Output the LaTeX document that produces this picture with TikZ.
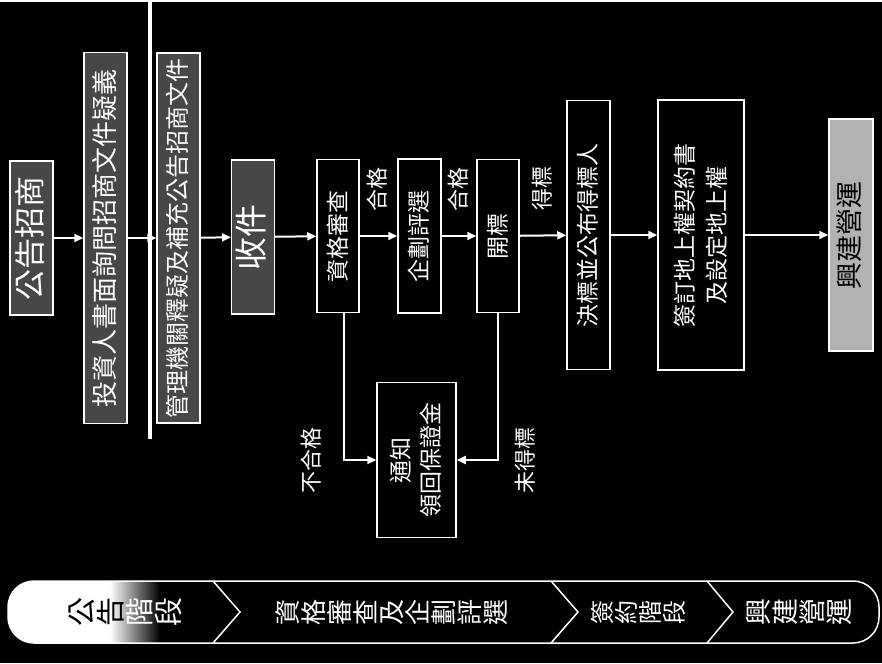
\documentclass[tikz,border=0pt]{standalone}
\usepackage{fontspec}
\setmainfont{Noto Sans CJK TC}
\usetikzlibrary{arrows.meta}
\newcommand\ver[1]{\hspace*{4pt}\rotatebox{90}{\begin{tabular}{@{}c@{}}#1\end{tabular}}}

\begin{document}
\begin{tikzpicture}[x=1pt,y=-1pt,
  scatola/.style={draw=white,line width=1.5pt,fill=black,text=white,inner sep=0pt,font=\fontsize{23}{30}\selectfont},
  retinata/.style={scatola,fill=black!72},
  freccia/.style={white,line width=2pt,-{Triangle[length=9pt,width=8pt]}},
  etichetta/.style={text=white,inner sep=0pt,font=\fontsize{22}{26}\selectfont},
  fase/.style={text=white,inner sep=0pt,rotate=90,align=center,font=\fontsize{27}{27}\selectfont}]

\def\barra{[rounded corners=26pt] (8,579) rectangle (879,641)}
\fill[black] (0,0) rectangle (882,661);
\draw[white,line width=4pt] (150,0) -- (150,437);

\node[retinata,minimum width=43pt,minimum height=154pt,font=\fontsize{31}{34}\selectfont] (annuncio) at (31.5,236) {\ver{公告招商}};
\node[retinata,minimum width=43pt,minimum height=371pt,font=\fontsize{26}{30}\selectfont] (quesiti) at (105.5,236) {\ver{投資人書面詢問招商文件疑義}};
\node[retinata,minimum width=43pt,minimum height=370pt,font=\fontsize{24}{30}\selectfont] (chiarimenti) at (178.5,236) {\ver{管理機關釋疑及補充公告招商文件}};
\node[retinata,minimum width=42pt,minimum height=154pt,font=\fontsize{33}{36}\selectfont] (ricezione) at (253,235) {\ver{收件}};
\node[scatola,minimum width=42pt,minimum height=153pt] (requisiti) at (338,234) {\ver{資格審查}};
\node[scatola,minimum width=43pt,minimum height=154pt] (valutazione) at (419.5,234) {\ver{企劃評選}};
\node[scatola,minimum width=42pt,minimum height=153pt] (apertura) at (498,234) {\ver{開標}};
\node[scatola,minimum width=43pt,minimum height=269pt] (aggiudica) at (588.5,233) {\ver{決標並公布得標人}};
\node[scatola,minimum width=86pt,minimum height=270pt,font=\fontsize{23}{32}\selectfont] (contratto) at (701,233) {\ver{簽訂地上權契約書\\及設定地上權}};
\node[scatola,minimum width=44pt,minimum height=232pt,fill=gray!60,text=black,font=\fontsize{27}{30}\selectfont] (costruzione) at (851,233) {\ver{興建營運}};
\node[scatola,minimum width=79pt,minimum height=155pt] (avviso) at (416.5,458) {\ver{通知\\領回保證金}};

\draw[freccia] (annuncio) -- (quesiti);
\draw[freccia] (quesiti) -- (chiarimenti);
\draw[freccia] (chiarimenti) -- (ricezione);
\draw[freccia] (ricezione) -- (requisiti);
\draw[freccia] (requisiti) -- node[etichetta,above=24pt]{\ver{合格}} (valutazione);
\draw[freccia] (valutazione) -- node[etichetta,above=24pt]{\ver{合格}} (apertura);
\draw[freccia] (apertura) -- node[etichetta,above=24pt]{\ver{得標}} (aggiudica);
\draw[freccia] (aggiudica) -- (contratto);
\draw[freccia] (contratto) -- (costruzione);
\draw[freccia] ([xshift=6pt]requisiti.south) |- node[etichetta,pos=.5,left=16pt]{\ver{不合格}} (avviso.west);
\draw[freccia] (apertura.south) |- node[etichetta,pos=.5,right=12pt]{\ver{未得標}} (avviso.east);

\begin{scope}
  \clip\barra;
  \fill[white] (0,570) rectangle (110,650);
  \shade[left color=white,right color=black] (110,570) rectangle (160,650);
\end{scope}
\draw[white,line width=1.5pt]\barra;
\draw[white,line width=1.5pt] (213,579) -- (240,610) -- (213,641);
\draw[white,line width=1.5pt] (551,579) -- (578,610) -- (551,641);
\draw[white,line width=1.5pt] (707,579) -- (733,610) -- (707,641);
\node[fase,font=\fontsize{29}{29}\selectfont] (faseA) at (125,610) {\textcolor{black}{公}\\\textcolor{black}{告}\\階\\段};
\node[fase,font=\fontsize{26}{26}\selectfont] (faseB) at (392,610) {資\\格\\審\\查\\及\\企\\劃\\評\\選};
\node[fase,font=\fontsize{24}{24}\selectfont] (faseC) at (638,610) {簽\\約\\階\\段};
\node[fase] (faseD) at (799,610) {興\\建\\營\\運};

\end{tikzpicture}
\end{document}
